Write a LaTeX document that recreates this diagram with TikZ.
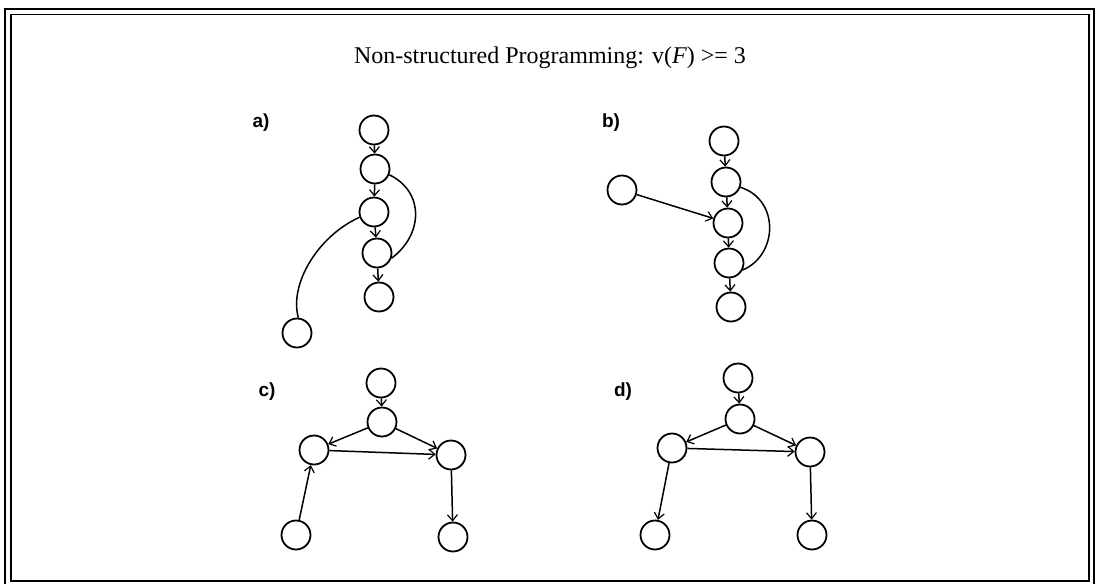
\documentclass[tikz,border=0pt]{standalone}
\usepackage{fontspec}
\setmainfont{Liberation Serif}
\newfontfamily\labfont{Liberation Sans}
\usetikzlibrary{arrows.meta}
\tikzset{
  vtx/.style={circle,draw,line width=1.8pt,minimum size=29pt,inner sep=0pt},
  edge/.style={line width=1.5pt,-{Straight Barb[length=6pt,width=10pt,line width=1.2pt]}},
  arc/.style={line width=1.5pt},
  panel/.style={font=\labfont\bfseries\fontsize{19}{19}\selectfont},
}
\begin{document}
\begin{tikzpicture}[x=1pt,y=-1pt]
\useasboundingbox (0,0) rectangle (1096,584);
% double frame
\draw[line width=2.4pt] (5,9) rectangle (1094,586);
\draw[line width=1.6pt] (11,14.5) rectangle (1089,581);
% title
\node[font=\fontsize{24}{24}\selectfont] (title) at (550,58) {Non-structured Programming: v(\textit{F}) >= 3};

% ---- a)
\node[panel] (la) at (261,123) {a)};
\node[vtx] (a1) at (374,130) {};
\node[vtx] (a2) at (375,169) {};
\node[vtx] (a3) at (374,212) {};
\node[vtx] (a4) at (377,253) {};
\node[vtx] (a5) at (379,297) {};
\node[vtx] (a6) at (297,333) {};
\draw[edge] (a1) -- (a2);
\draw[edge] (a2) -- (a3);
\draw[edge] (a3) -- (a4);
\draw[edge] (a4) -- (a5);
\draw[arc] (a2.-22) .. controls (425,192) and (423,235) .. (a4.-20);
\draw[arc] (a3.200) .. controls (318,236) and (289,284) .. (a6.85);

% ---- b)
\node[panel] (lb) at (611,123) {b)};
\node[vtx] (b1) at (724,141) {};
\node[vtx] (b2) at (726,182) {};
\node[vtx] (b3) at (728,223) {};
\node[vtx] (b4) at (729,263) {};
\node[vtx] (b5) at (731,307) {};
\node[vtx] (b6) at (622,190) {};
\draw[edge] (b1) -- (b2);
\draw[edge] (b2) -- (b3);
\draw[edge] (b3) -- (b4);
\draw[edge] (b4) -- (b5);
\draw[edge] (b6) -- (b3);
\draw[arc] (b2.-20) .. controls (780,200) and (778,255) .. (b4.-27);

% ---- c)
\node[panel] (lc) at (267,392) {c)};
\node[vtx] (c1) at (381,383) {};
\node[vtx] (c2) at (382,422) {};
\node[vtx] (c3) at (314,450) {};
\node[vtx] (c4) at (451,455) {};
\node[vtx] (c5) at (296,535) {};
\node[vtx] (c6) at (453,537) {};
\draw[edge] (c1) -- (c2);
\draw[edge] (c2) -- (c3);
\draw[edge] (c2) -- (c4);
\draw[edge] (c3) -- (c4);
\draw[edge] (c5) -- (c3);
\draw[edge] (c4) -- (c6);

% ---- d)
\node[panel] (ld) at (623,392) {d)};
\node[vtx] (d1) at (738,378) {};
\node[vtx] (d2) at (740,419) {};
\node[vtx] (d3) at (672,448) {};
\node[vtx] (d4) at (810,452) {};
\node[vtx] (d5) at (655,535) {};
\node[vtx] (d6) at (812,535) {};
\draw[edge] (d1) -- (d2);
\draw[edge] (d2) -- (d3);
\draw[edge] (d2) -- (d4);
\draw[edge] (d3) -- (d4);
\draw[edge] (d3) -- (d5);
\draw[edge] (d4) -- (d6);
\end{tikzpicture}
\end{document}
